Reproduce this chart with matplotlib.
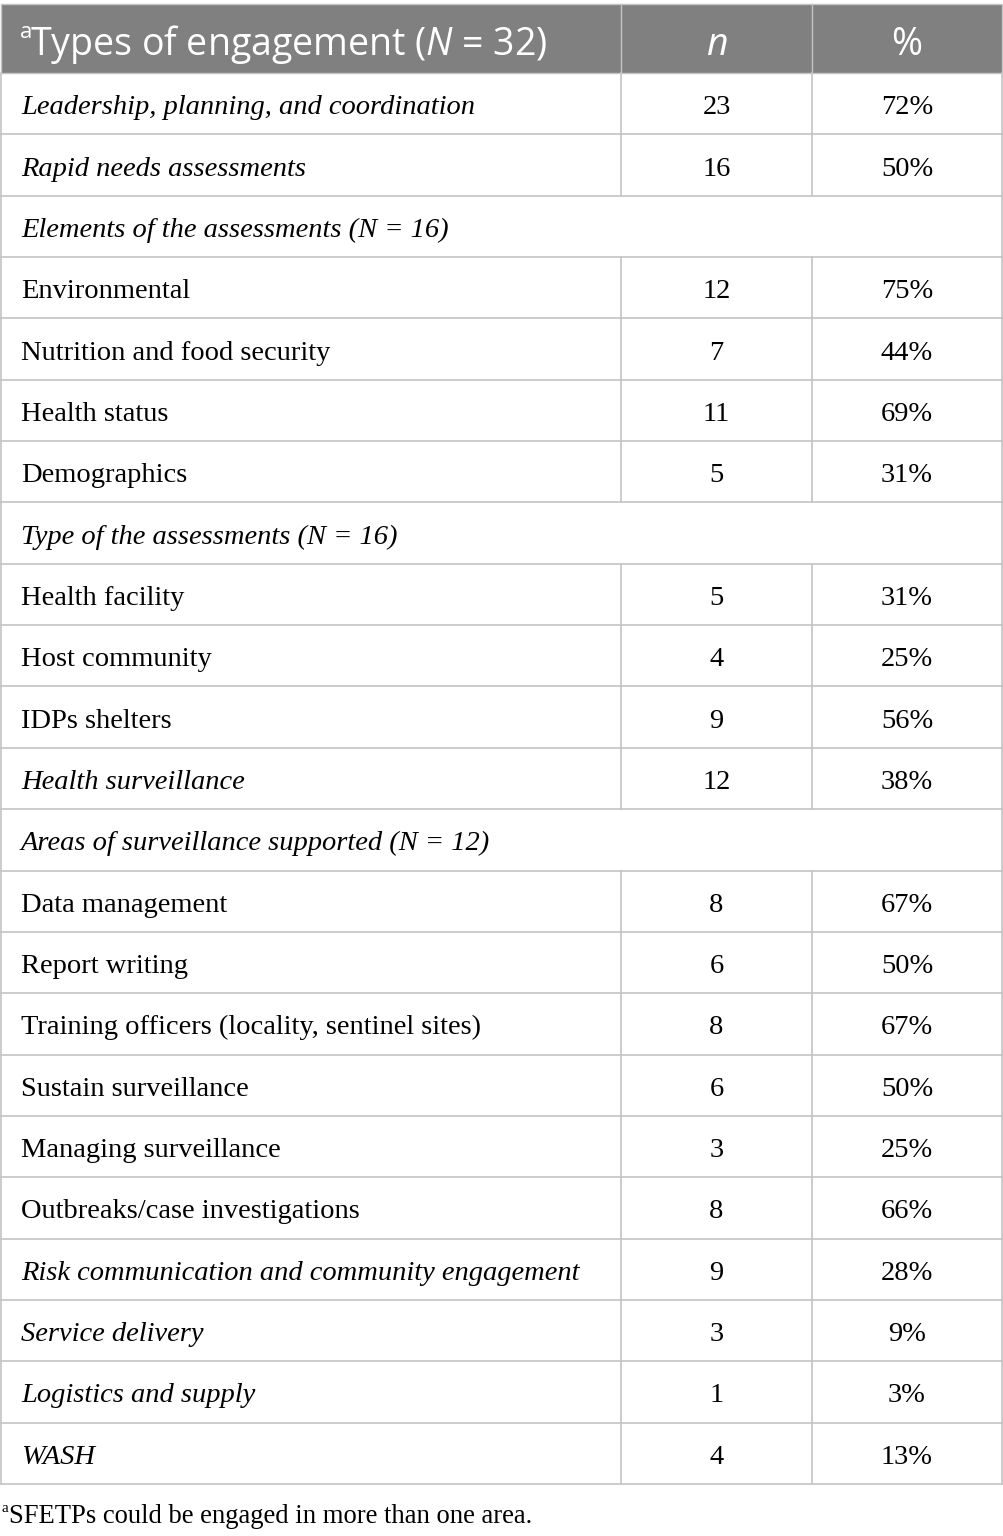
import matplotlib
matplotlib.use("Agg")
import matplotlib.pyplot as plt

plt.rcParams['mathtext.fontset'] = 'custom'
plt.rcParams['mathtext.it'] = 'Open Sans:italic'
plt.rcParams['mathtext.rm'] = 'Open Sans'
plt.rcParams['font.serif'] = ['Liberation Serif', 'DejaVu Serif']

# table content
labels = [
    "Leadership, planning, and coordination", "Rapid needs assessments",
    "Elements of the assessments (N = 16)", "Environmental",
    "Nutrition and food security", "Health status", "Demographics",
    "Type of the assessments (N = 16)", "Health facility", "Host community",
    "IDPs shelters", "Health surveillance",
    "Areas of surveillance supported (N = 12)", "Data management",
    "Report writing", "Training officers (locality, sentinel sites)",
    "Sustain surveillance", "Managing surveillance",
    "Outbreaks/case investigations",
    "Risk communication and community engagement", "Service delivery",
    "Logistics and supply", "WASH",
]
n_vals = [23, 16, None, 12, 7, 11, 5, None, 5, 4, 9, 12, None,
          8, 6, 8, 6, 3, 8, 9, 3, 1, 4]
pct_vals = ["72%", "50%", None, "75%", "44%", "69%", "31%", None, "31%",
            "25%", "56%", "38%", None, "67%", "50%", "67%", "50%", "25%",
            "66%", "28%", "9%", "3%", "13%"]
italic_rows = [0, 1, 2, 7, 11, 12, 19, 20, 21, 22]

W, H = 1004, 1536
fig = plt.figure(figsize=(W / 100, H / 100), dpi=100)
ax = fig.add_axes([0, 0, 1, 1])
ax.set_xlim(0, W)
ax.set_ylim(H, 0)
ax.axis('off')

line_c = '#c4c4c4'
x0, x1, x2, x3 = 1, 621, 812, 1002
top, head_bot = 4, 73
row_h = (1484 - 73) / len(labels)
fs = 20.5

# header
ax.add_patch(plt.Rectangle((x0, top), x3 - x0, head_bot - top,
                           facecolor='#808080', edgecolor=line_c, lw=1))
hb = 55
ax.text(20, hb - 17, "a", color='white', fontsize=16, family='Open Sans',
        va='baseline')
ax.text(30, hb, r"Types of engagement ($\it{N}$ = 32)", color='white',
        fontsize=27, family='Open Sans', va='baseline')
ax.text((x1 + x2) / 2, hb, "n", color='white', fontsize=27,
        family='Open Sans', style='italic', va='baseline', ha='center')
ax.text((x2 + x3) / 2, hb, "%", color='white', fontsize=27,
        family='Open Sans', va='baseline', ha='center')
ax.plot([x1, x1], [top, head_bot], color=line_c, lw=1)
ax.plot([x2, x2], [top, head_bot], color=line_c, lw=1)

# body rows
for i, lab in enumerate(labels):
    ya = head_bot + i * row_h
    yb = ya + row_h
    base = (ya + yb) / 2 + 10.5
    ax.plot([x0, x3], [yb, yb], color=line_c, lw=1.2)
    ax.plot([x0, x0], [ya, yb], color=line_c, lw=1.2)
    ax.plot([x3, x3], [ya, yb], color=line_c, lw=1.2)
    st = 'italic' if i in italic_rows else 'normal'
    ax.text(21, base, lab, fontsize=fs, family='serif', style=st,
            va='baseline')
    if n_vals[i] is not None:
        ax.plot([x1, x1], [ya, yb], color=line_c, lw=1.2)
        ax.plot([x2, x2], [ya, yb], color=line_c, lw=1.2)
        ax.text((x1 + x2) / 2, base, str(n_vals[i]), fontsize=fs,
                family='serif', va='baseline', ha='center')
        ax.text((x2 + x3) / 2, base, pct_vals[i], fontsize=fs,
                family='serif', va='baseline', ha='center')

# footnote
ax.text(2, 1512, "a", fontsize=11, family='serif', va='baseline')
ax.text(9, 1523, "SFETPs could be engaged in more than one area.",
        fontsize=19.2, family='serif', va='baseline')

fig.savefig("out.png", dpi=100)
